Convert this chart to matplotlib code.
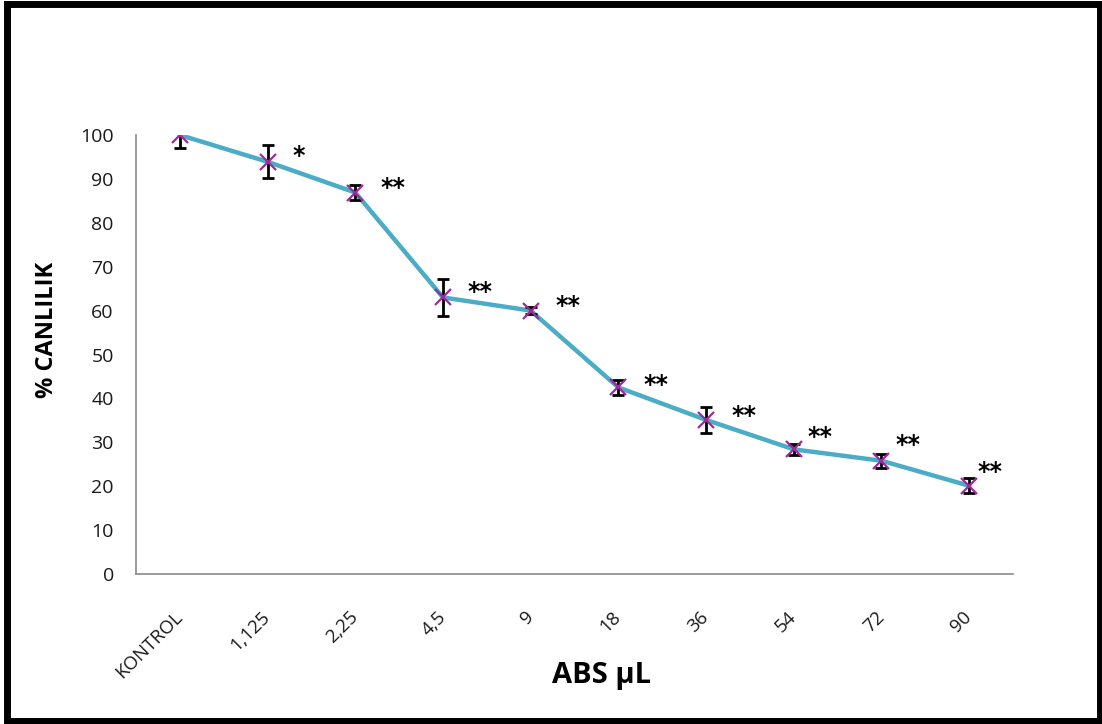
import matplotlib
matplotlib.use("Agg")
import matplotlib.pyplot as plt
from matplotlib.patches import Rectangle

categories = ["KONTROL", "1,125", "2,25", "4,5", "9", "18", "36", "54", "72", "90"]
viability = [100, 93.9, 86.9, 63.0, 60.0, 42.5, 35.1, 28.4, 25.8, 20.1]
errors = [3.0, 3.8, 1.6, 4.3, 0.8, 1.8, 3.0, 1.3, 1.6, 1.7]
stars = ["", "*", "**", "**", "**", "**", "**", "**", "**", "**"]
y_ticks = [0, 10, 20, 30, 40, 50, 60, 70, 80, 90, 100]

# star label placement offsets (points), style only
star_dx = [0, 18, 18, 18, 18, 18, 18, 10, 10, 6]
star_dy = [0, 4, 3, 4, 3, 2, 3, 9, 11, 10]

W, H, DPI = 1102, 724, 100
fig = plt.figure(figsize=(W / DPI, H / DPI), dpi=DPI)
fig.patch.set_facecolor("white")

ax = fig.add_axes([136 / W, 1 - 574 / H, (1013 - 136) / W, (574 - 135) / H])
x = list(range(len(categories)))

ax.plot(x, viability, color="#4BACC6", lw=3.2, zorder=2, solid_joinstyle="round")
ax.errorbar(x, viability, yerr=errors, fmt="none", ecolor="black",
            elinewidth=2.0, capsize=4.5, capthick=2.0, zorder=3)
ax.plot(x, viability, ls="none", marker="x", ms=11, mew=1.6,
        color="#A0289B", zorder=4)

for xi, yi, s, dx, dy in zip(x, viability, stars, star_dx, star_dy):
    if s:
        ax.annotate(s, (xi, yi), xytext=(dx, dy), textcoords="offset points",
                    ha="left", va="center", fontsize=17, fontweight="bold",
                    color="black", zorder=5)

ax.set_xlim(-0.5, len(categories) - 0.5)
ax.set_ylim(0, 100)
ax.set_yticks(y_ticks)
ax.set_xticks(x)
ax.set_xticklabels(categories, rotation=45, ha="right", va="center",
                   rotation_mode="anchor", fontsize=13.5, color="#1a1a1a",
                   family="Open Sans")
for lab in ax.get_yticklabels():
    lab.set_fontsize(14)
    lab.set_family("Open Sans")
    lab.set_color("#1a1a1a")
ax.tick_params(axis="x", length=0, pad=29)
ax.tick_params(axis="y", length=0, pad=16)

for side in ["top", "right"]:
    ax.spines[side].set_visible(False)
for side in ["left", "bottom"]:
    ax.spines[side].set_color("#8a8a8a")
    ax.spines[side].set_linewidth(1.2)

ax.set_ylabel("% CANLILIK", fontsize=17, fontweight="bold", family="Open Sans")
ax.set_xlabel("ABS µL", fontsize=21, fontweight="bold", family="Open Sans")
ax.xaxis.set_label_coords((602 - 136) / (1013 - 136), -(676 - 574) / (574 - 135))
ax.yaxis.set_label_coords(-(136 - 47) / (1013 - 136), (574 - 330) / (574 - 135))
ax.xaxis.label.set_va("center")
ax.yaxis.label.set_va("center")

# outer black frame
fig.patches.append(Rectangle((6.5 / W, 3.5 / H), (1099.5 - 6.5) / W, (720.5 - 3.5) / H,
                             transform=fig.transFigure, fill=False,
                             edgecolor="black", lw=5.0, zorder=10))

fig.savefig("out.png", dpi=DPI, facecolor="white")
